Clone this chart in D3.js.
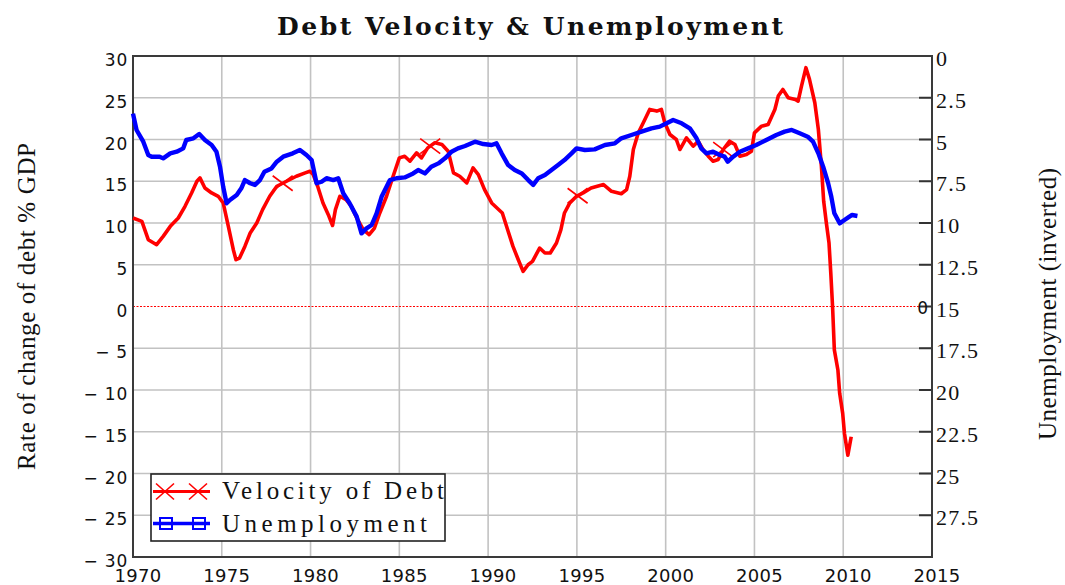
<!DOCTYPE html>
<html>
<head>
<meta charset="utf-8">
<script src="https://cdn.jsdelivr.net/npm/d3@7"></script>
<style>
  body { margin: 0; background: #fff; }
  svg { display: block; }
</style>
</head>
<body>
<div id="chart"></div>
<script>
// Debt velocity (rate of change of debt, % of GDP)
const debtYears = [1970.0, 1970.5, 1970.86, 1971.33, 1971.7, 1972.1, 1972.55, 1972.93, 1973.3, 1973.6, 1973.77, 1974.05, 1974.43, 1974.8, 1975.08, 1975.37, 1975.65, 1975.8, 1976.0, 1976.3, 1976.6, 1976.97, 1977.3, 1977.7, 1978.1, 1978.65, 1979.2, 1979.7, 1979.96, 1980.15, 1980.4, 1980.7, 1981.0, 1981.24, 1981.4, 1981.65, 1982.0, 1982.3, 1982.6, 1982.97, 1983.3, 1983.6, 1983.9, 1984.28, 1984.65, 1985.0, 1985.3, 1985.6, 1985.97, 1986.25, 1986.6, 1987.0, 1987.4, 1987.75, 1988.05, 1988.4, 1988.8, 1989.15, 1989.45, 1989.8, 1990.2, 1990.8, 1991.1, 1991.4, 1991.7, 1991.97, 1992.25, 1992.5, 1992.9, 1993.2, 1993.5, 1993.85, 1994.1, 1994.3, 1994.6, 1994.98, 1995.35, 1995.8, 1996.5, 1996.95, 1997.5, 1997.8, 1997.98, 1998.18, 1998.46, 1998.74, 1999.1, 1999.5, 1999.76, 1999.95, 2000.24, 2000.6, 2000.8, 2001.17, 2001.55, 2001.83, 2002.1, 2002.4, 2002.67, 2002.96, 2003.24, 2003.6, 2003.9, 2004.18, 2004.55, 2004.83, 2005.0, 2005.4, 2005.77, 2006.15, 2006.34, 2006.6, 2006.9, 2007.3, 2007.46, 2007.65, 2007.9, 2008.1, 2008.4, 2008.6, 2008.77, 2008.9, 2009.05, 2009.2, 2009.3, 2009.4, 2009.5, 2009.7, 2009.8, 2009.97, 2010.07, 2010.26, 2010.45];
const debtVelocity = [10.6, 10.2, 8.0, 7.4, 8.4, 9.6, 10.6, 12.0, 13.6, 15.0, 15.4, 14.2, 13.6, 13.2, 12.4, 9.6, 6.8, 5.6, 5.8, 7.2, 8.8, 10.0, 11.6, 13.2, 14.4, 15.0, 15.6, 16.0, 16.2, 15.8, 14.4, 12.4, 11.0, 9.7, 11.6, 13.2, 12.8, 12.0, 10.6, 9.2, 8.6, 9.4, 11.2, 13.2, 15.6, 17.8, 18.0, 17.4, 18.4, 17.8, 19.0, 19.6, 19.4, 18.6, 16.0, 15.6, 14.8, 16.6, 15.8, 14.0, 12.4, 11.2, 9.2, 7.2, 5.6, 4.2, 5.0, 5.4, 7.0, 6.4, 6.4, 7.6, 9.2, 11.2, 12.4, 13.2, 13.6, 14.2, 14.6, 13.8, 13.5, 14.0, 15.6, 18.8, 20.8, 22.0, 23.6, 23.4, 23.6, 22.0, 20.6, 20.0, 18.8, 20.2, 19.2, 19.8, 18.8, 18.0, 17.4, 17.6, 18.8, 19.8, 19.4, 18.0, 18.2, 18.6, 20.8, 21.6, 21.8, 23.6, 25.2, 26.0, 25.0, 24.8, 24.6, 26.4, 28.6, 27.2, 24.4, 21.2, 16.8, 12.6, 10.0, 7.6, 4.0, 0.0, -5.2, -7.6, -10.4, -12.8, -15.2, -17.8, -15.6];

// Unemployment rate (%), plotted on the inverted right axis
const unempYears = [1970.0, 1970.2, 1970.58, 1970.86, 1971.05, 1971.5, 1971.7, 1972.1, 1972.46, 1972.83, 1973.0, 1973.4, 1973.73, 1974.05, 1974.43, 1974.7, 1974.9, 1975.08, 1975.27, 1975.46, 1975.84, 1976.1, 1976.3, 1976.6, 1976.87, 1977.15, 1977.4, 1977.8, 1978.1, 1978.46, 1979.0, 1979.4, 1979.77, 1980.06, 1980.34, 1980.62, 1980.9, 1981.28, 1981.56, 1981.84, 1982.2, 1982.6, 1982.87, 1983.15, 1983.44, 1983.72, 1984.0, 1984.28, 1984.47, 1984.84, 1985.3, 1985.78, 1986.06, 1986.44, 1986.8, 1987.2, 1987.57, 1987.94, 1988.3, 1988.7, 1989.26, 1989.73, 1990.2, 1990.47, 1990.76, 1991.13, 1991.5, 1991.9, 1992.26, 1992.54, 1992.82, 1993.2, 1993.57, 1993.94, 1994.3, 1994.7, 1994.98, 1995.45, 1996.0, 1996.58, 1997.14, 1997.5, 1998.07, 1998.64, 1999.2, 1999.67, 2000.05, 2000.42, 2000.9, 2001.36, 2001.74, 2002.0, 2002.3, 2002.67, 2003.05, 2003.32, 2003.5, 2003.8, 2004.18, 2004.64, 2005.1, 2005.67, 2006.23, 2006.7, 2007.1, 2007.55, 2008.0, 2008.3, 2008.6, 2008.87, 2009.15, 2009.33, 2009.5, 2009.8, 2010.07, 2010.35, 2010.5, 2010.8];
const unemployment = [3.45, 4.43, 5.13, 5.93, 6.03, 6.03, 6.13, 5.83, 5.73, 5.53, 5.03, 4.93, 4.67, 5.03, 5.33, 5.73, 6.63, 7.83, 8.82, 8.62, 8.32, 7.92, 7.43, 7.62, 7.72, 7.43, 6.93, 6.73, 6.33, 6.03, 5.83, 5.63, 5.93, 6.23, 7.62, 7.53, 7.32, 7.43, 7.32, 8.22, 8.82, 9.62, 10.62, 10.32, 10.12, 9.42, 8.43, 7.83, 7.43, 7.32, 7.27, 7.03, 6.83, 7.03, 6.63, 6.43, 6.13, 5.73, 5.53, 5.39, 5.13, 5.27, 5.33, 5.23, 5.83, 6.53, 6.83, 7.03, 7.43, 7.72, 7.32, 7.13, 6.83, 6.53, 6.23, 5.83, 5.53, 5.63, 5.59, 5.33, 5.23, 4.93, 4.73, 4.53, 4.33, 4.23, 4.03, 3.83, 4.03, 4.33, 4.93, 5.53, 5.83, 5.73, 5.93, 6.03, 6.33, 6.03, 5.73, 5.53, 5.33, 5.03, 4.73, 4.53, 4.43, 4.63, 4.83, 5.13, 5.83, 6.63, 7.62, 8.43, 9.42, 10.02, 9.82, 9.62, 9.52, 9.58];

// years where the "x" symbols of the debt series sit
const debtMarkerYears = [1978.43, 1986.74, 1995.04, 2003.24];

const xTicks = [1970, 1975, 1980, 1985, 1990, 1995, 2000, 2005, 2010, 2015];
const leftTicks = [30, 25, 20, 15, 10, 5, 0, -5, -10, -15, -20, -25, -30];
const rightTicks = [0, 2.5, 5, 7.5, 10, 12.5, 15, 17.5, 20, 22.5, 25, 27.5];

const width = 1065, height = 585;
const plot = { left: 133, right: 932, top: 56, bottom: 557 };

const svg = d3.select('#chart').append('svg')
  .attr('width', width)
  .attr('height', height);

const x = d3.scaleLinear().domain([1970, 2015]).range([plot.left, plot.right]);
const yLeft = d3.scaleLinear().domain([-30, 30]).range([plot.bottom, plot.top]);
const yRight = d3.scaleLinear().domain([0, 30]).range([plot.top, plot.bottom]);

const serif = '"Liberation Serif", "Times New Roman", serif';
const sans = '"DejaVu Sans", Verdana, sans-serif';

// grid
svg.append('g')
  .selectAll('line')
  .data(xTicks.slice(1, -1))
  .join('line')
  .attr('x1', d => x(d)).attr('x2', d => x(d))
  .attr('y1', plot.top).attr('y2', plot.bottom)
  .attr('stroke', '#c2c2c2').attr('stroke-width', 1.6);

svg.append('g')
  .selectAll('line')
  .data(leftTicks.filter(d => d !== 30 && d !== -30 && d !== 0))
  .join('line')
  .attr('x1', plot.left).attr('x2', plot.right)
  .attr('y1', d => yLeft(d)).attr('y2', d => yLeft(d))
  .attr('stroke', '#c2c2c2').attr('stroke-width', 1.6);

// zero reference line
svg.append('line')
  .attr('x1', plot.left).attr('x2', plot.right)
  .attr('y1', yLeft(0)).attr('y2', yLeft(0))
  .attr('stroke', '#ff0000').attr('stroke-width', 1)
  .attr('stroke-dasharray', '2,1.5');

// right axis inward ticks
svg.append('g')
  .selectAll('line')
  .data(rightTicks.filter(d => d > 0))
  .join('line')
  .attr('x1', plot.right - 13).attr('x2', plot.right)
  .attr('y1', d => yRight(d)).attr('y2', d => yRight(d))
  .attr('stroke', '#333').attr('stroke-width', 2);

// frame
svg.append('rect')
  .attr('x', plot.left).attr('y', plot.top)
  .attr('width', plot.right - plot.left)
  .attr('height', plot.bottom - plot.top)
  .attr('fill', 'none')
  .attr('stroke', '#3a3a3a').attr('stroke-width', 2);

// series
const debtData = debtYears.map((d, i) => [d, debtVelocity[i]]);
const unempData = unempYears.map((d, i) => [d, unemployment[i]]);

const debtLine = d3.line().x(d => x(d[0])).y(d => yLeft(d[1]));
const unempLine = d3.line().x(d => x(d[0])).y(d => yRight(d[1]));

svg.append('path')
  .datum(debtData)
  .attr('d', debtLine)
  .attr('fill', 'none')
  .attr('stroke', '#ff0000')
  .attr('stroke-width', 3.6)
  .attr('stroke-linejoin', 'round');

const debtAt = yr => {
  const i = d3.bisector(d => d[0]).left(debtData, yr);
  const a = debtData[Math.max(0, i - 1)], b = debtData[Math.min(debtData.length - 1, i)];
  const t = b[0] === a[0] ? 0 : (yr - a[0]) / (b[0] - a[0]);
  return a[1] + t * (b[1] - a[1]);
};

const cross = (g, cx, cy, hw, hh) => {
  g.append('path')
    .attr('d', `M${cx - hw},${cy - hh}L${cx + hw},${cy + hh}M${cx - hw},${cy + hh}L${cx + hw},${cy - hh}`)
    .attr('stroke', '#ff0000').attr('stroke-width', 1.6).attr('fill', 'none');
};

const markers = svg.append('g');
debtMarkerYears.forEach(yr => cross(markers, x(yr), yLeft(debtAt(yr)), 10, 7.5));

svg.append('path')
  .datum(unempData)
  .attr('d', unempLine)
  .attr('fill', 'none')
  .attr('stroke', '#0000ff')
  .attr('stroke-width', 4.4)
  .attr('stroke-linejoin', 'round');

// axis labels
svg.append('g')
  .selectAll('text')
  .data(leftTicks)
  .join('text')
  .attr('x', 128)
  .attr('y', d => yLeft(d) + 10)
  .attr('text-anchor', 'end')
  .attr('font-family', sans).attr('font-size', 17)
  .attr('letter-spacing', 0.8)
  .attr('fill', '#111')
  .text(d => d < 0 ? '\u2212 ' + Math.abs(d) : d);

svg.append('g')
  .selectAll('text')
  .data(rightTicks)
  .join('text')
  .attr('x', 936)
  .attr('y', d => yRight(d) + 10)
  .attr('font-family', serif).attr('font-size', 22)
  .attr('letter-spacing', 1.2)
  .attr('fill', '#111')
  .text(d => d);

svg.append('g')
  .selectAll('text')
  .data(xTicks)
  .join('text')
  .attr('x', d => x(d) + 5)
  .attr('y', 582)
  .attr('text-anchor', 'middle')
  .attr('font-family', sans).attr('font-size', 18)
  .attr('letter-spacing', 0.3)
  .attr('fill', '#111')
  .text(d => d);

// value label at the end of the zero line
svg.append('text')
  .attr('x', 928).attr('y', yLeft(0) + 7)
  .attr('text-anchor', 'end')
  .attr('font-family', sans).attr('font-size', 17)
  .attr('fill', '#111')
  .text('0');

// title and axis titles
svg.append('text')
  .attr('x', 277).attr('y', 35)
  .attr('textLength', 506).attr('lengthAdjust', 'spacing')
  .attr('font-family', '"DejaVu Serif", serif').attr('font-size', 25).attr('font-weight', 'bold')
  .attr('fill', '#111')
  .text('Debt Velocity & Unemployment');

svg.append('text')
  .attr('transform', 'translate(35,470) rotate(-90)')
  .attr('textLength', 327).attr('lengthAdjust', 'spacing')
  .attr('font-family', serif).attr('font-size', 25)
  .attr('fill', '#111')
  .text('Rate of change of debt % GDP');

svg.append('text')
  .attr('transform', 'translate(1056,440) rotate(-90)')
  .attr('textLength', 272).attr('lengthAdjust', 'spacing')
  .attr('font-family', serif).attr('font-size', 25)
  .attr('fill', '#111')
  .text('Unemployment (inverted)');

// legend
const legend = svg.append('g');
legend.append('rect')
  .attr('x', 151).attr('y', 474)
  .attr('width', 294).attr('height', 67)
  .attr('fill', '#fff')
  .attr('stroke', '#222').attr('stroke-width', 1.6);

legend.append('line')
  .attr('x1', 153).attr('x2', 210).attr('y1', 491.5).attr('y2', 491.5)
  .attr('stroke', '#ff0000').attr('stroke-width', 3);
cross(legend, 165, 491.5, 9, 8);
cross(legend, 198, 491.5, 9, 8);

legend.append('line')
  .attr('x1', 153).attr('x2', 210).attr('y1', 523.5).attr('y2', 523.5)
  .attr('stroke', '#0000ff').attr('stroke-width', 3.5);
[166, 199].forEach(cx => {
  legend.append('rect')
    .attr('x', cx - 6).attr('y', 518).attr('width', 12).attr('height', 11)
    .attr('fill', 'none').attr('stroke', '#0000ff').attr('stroke-width', 2);
});

legend.append('text')
  .attr('x', 222).attr('y', 499)
  .attr('textLength', 222).attr('lengthAdjust', 'spacing')
  .attr('font-family', serif).attr('font-size', 25)
  .attr('fill', '#111')
  .text('Velocity of Debt');

legend.append('text')
  .attr('x', 222).attr('y', 532)
  .attr('textLength', 205).attr('lengthAdjust', 'spacing')
  .attr('font-family', serif).attr('font-size', 25)
  .attr('fill', '#111')
  .text('Unemployment');
</script>
</body>
</html>
